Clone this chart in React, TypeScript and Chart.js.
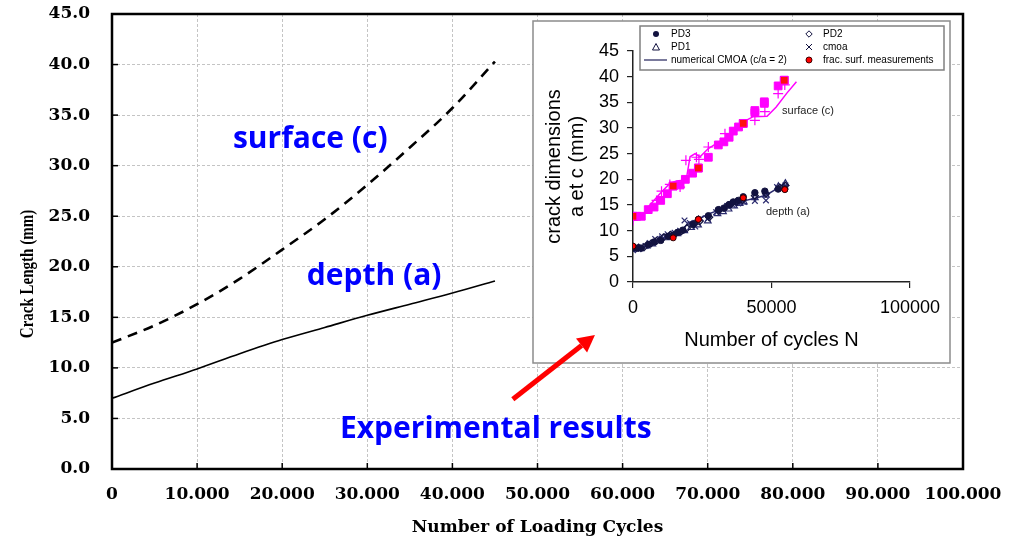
import React, { useEffect, useRef } from 'react';
import { Chart, registerables } from 'chart.js';

Chart.register(...registerables);

// ---------------- main chart data ----------------
const mainCycles = [0, 5000, 10000, 15000, 20000, 25000, 30000, 35000, 40000, 45000];
const surfaceCurve = [12.5, 14.2, 16.3, 18.8, 21.7, 24.7, 28.1, 31.8, 35.7, 40.3];
const depthCurve = [7.0, 8.5, 9.9, 11.4, 12.8, 14.0, 15.2, 16.3, 17.4, 18.6];

const mainXTitle = 'Number of Loading Cycles';
const mainYTitle = 'Crack Length (mm)';
const surfaceNote = { text: 'surface (c)', x: 23300, y: 32.6 };
const depthNote = { text: 'depth (a)', x: 30800, y: 19.0 };
const experimentNote = { text: 'Experimental results', x: 45100, y: 3.9 };
const arrowFrom = { x: 47100, y: 6.9 };
const arrowTo = { x: 56750, y: 13.25 };

// ---------------- inset data ----------------
const pd3Cycles = [0, 1500, 3000, 5500, 7600, 10000, 12700, 14500, 16300, 18000, 21600, 23600, 27200, 30800, 32800, 34700, 36200, 38000, 39800, 44000, 47600, 52400, 54800];
const pd3Depth = [6.6, 6.6, 6.6, 7.3, 7.8, 8.1, 8.9, 9.1, 9.7, 10.1, 11.2, 12.2, 12.9, 14.1, 14.4, 15.1, 15.6, 15.9, 16.6, 17.4, 17.7, 18.1, 18.1];

const pd2Cycles = [0, 2000, 4000, 6500, 8500, 11000, 13500, 15500, 17500, 19500, 22000, 24000, 27500, 31000, 33500, 35500, 37500, 39500, 44000, 48000, 53000, 55000];
const pd2Depth = [6.8, 6.7, 6.8, 7.5, 8.0, 8.7, 9.2, 9.5, 9.9, 10.5, 11.3, 11.8, 12.6, 13.9, 14.6, 15.2, 15.6, 16.0, 16.8, 17.2, 18.4, 18.8];

const pd1Cycles = [0, 2500, 5000, 7000, 9500, 12000, 14000, 16000, 18500, 21000, 23500, 27000, 30500, 32500, 34500, 36500, 38500, 40000, 44000, 48000, 52500, 55000];
const pd1Depth = [6.4, 6.5, 7.0, 7.4, 8.2, 8.6, 9.0, 9.4, 10.0, 10.6, 11.1, 11.9, 13.3, 13.7, 14.2, 14.8, 15.3, 15.6, 16.4, 16.9, 18.6, 19.2];

const cmoaCycles = [0, 2000, 4500, 6000, 8000, 10500, 12500, 15000, 17000, 18600, 20500, 22500, 24500, 27000, 30000, 32000, 34000, 36000, 38000, 40000, 44000, 48000, 52000, 55000];
const cmoaDepth = [6.2, 6.4, 7.0, 7.6, 8.4, 8.9, 9.3, 9.6, 10.0, 12.0, 11.5, 10.8, 12.4, 12.3, 13.6, 14.2, 14.8, 15.0, 15.3, 15.6, 15.8, 15.9, 18.5, 18.8];

const numDepthCycles = [0, 5000, 10000, 15000, 18000, 20000, 23000, 27000, 30000, 35000, 40000, 44000, 48000, 52000, 55000];
const numDepth = [6.5, 7.0, 8.3, 9.5, 10.2, 11.6, 12.0, 13.2, 13.8, 15.0, 15.8, 16.3, 16.9, 18.2, 19.3];

const fracDepthCycles = [0, 14500, 23600, 39800, 54800];
const fracDepth = [7.0, 8.6, 12.2, 16.4, 18.0];
const fracSurfCycles = [0, 14500, 23600, 39800, 54600];
const fracSurf = [12.8, 18.7, 22.2, 30.9, 39.3];

const surfSqCycles = [0, 1300, 3000, 5500, 7600, 10000, 12400, 14500, 17000, 18900, 21500, 23600, 27200, 30800, 32800, 34700, 36200, 38100, 39800, 44000, 44000, 47400, 47400, 52400, 54600];
const surfSq = [12.8, 12.8, 12.8, 14.1, 14.6, 15.9, 17.2, 18.7, 18.9, 20.0, 21.2, 22.2, 24.3, 26.7, 27.3, 28.2, 29.4, 30.2, 30.9, 33.4, 33.0, 35.1, 34.8, 38.2, 39.3];

const surfPlusCycles = [0, 8500, 10300, 13300, 17000, 19100, 22900, 23800, 27200, 33200, 37000, 44000, 47600, 52400, 54800];
const surfPlus = [12.0, 15.9, 17.7, 19.0, 18.5, 23.7, 24.3, 23.9, 26.3, 28.9, 30.0, 31.5, 33.2, 36.7, 38.4];

const numSurfCycles = [0, 3700, 5500, 9700, 13300, 15700, 18200, 19400, 20600, 22400, 24200, 27200, 30200, 35000, 39800, 43400, 48400, 51700, 55400, 59000];
const numSurf = [12.0, 13.0, 14.6, 17.2, 19.2, 19.7, 19.8, 20.5, 24.4, 25.0, 24.4, 26.0, 27.0, 28.6, 31.2, 32.2, 32.3, 34.1, 36.7, 39.0];

const insetXTitle = 'Number of cycles N';
const insetYTitle = ['crack dimensions', 'a et c (mm)'];
const insetSurfNote = { text: 'surface (c)', x: 53800, y: 33.3 };
const insetDepthNote = { text: 'depth (a)', x: 48000, y: 13.6 };

const legendLabels = ['PD3', 'PD2', 'PD1', 'cmoa', 'numerical CMOA (c/a = 2)', 'frac. surf. measurements'];
const legendKinds = ['circle', 'diamond', 'triangle', 'cross', 'line', 'red'];

// ---------------- layout / style constants ----------------
const INSET = { left: 533, top: 21, width: 417, height: 342 };
const NAVY = '#12123f';
const NAVY2 = '#2b2b6e';
const MAGENTA = '#ff00ff';

const zip = (xs: number[], ys: number[]) => xs.map((x, i) => ({ x, y: ys[i] }));

function drawArrow(ctx: CanvasRenderingContext2D, x1: number, y1: number, x2: number, y2: number) {
  const ang = Math.atan2(y2 - y1, x2 - x1);
  const head = 17;
  const half = 9;
  const bx = x2 - head * Math.cos(ang);
  const by = y2 - head * Math.sin(ang);
  ctx.strokeStyle = '#ff0000';
  ctx.fillStyle = '#ff0000';
  ctx.lineWidth = 5;
  ctx.beginPath();
  ctx.moveTo(x1, y1);
  ctx.lineTo(bx, by);
  ctx.stroke();
  ctx.beginPath();
  ctx.moveTo(x2, y2);
  ctx.lineTo(bx + half * Math.sin(ang), by - half * Math.cos(ang));
  ctx.lineTo(bx - half * Math.sin(ang), by + half * Math.cos(ang));
  ctx.closePath();
  ctx.fill();
}

const mainDecor = {
  id: 'mainDecor',
  afterDraw(chart: any) {
    const { ctx, chartArea: a, scales } = chart;
    const xs = scales.x;
    const ys = scales.y;
    ctx.save();
    // inward tick marks
    ctx.strokeStyle = '#000';
    ctx.lineWidth = 1.5;
    ys.ticks.forEach((t: any) => {
      const py = ys.getPixelForValue(t.value);
      ctx.beginPath();
      ctx.moveTo(a.left, py);
      ctx.lineTo(a.left + 6, py);
      ctx.stroke();
    });
    xs.ticks.forEach((t: any) => {
      const px = xs.getPixelForValue(t.value);
      ctx.beginPath();
      ctx.moveTo(px, a.bottom);
      ctx.lineTo(px, a.bottom - 6);
      ctx.stroke();
    });
    // frame
    ctx.lineWidth = 2.5;
    ctx.strokeRect(a.left, a.top, a.right - a.left, a.bottom - a.top);
    // inset panel
    ctx.fillStyle = '#fff';
    ctx.fillRect(INSET.left, INSET.top, INSET.width, INSET.height);
    ctx.strokeStyle = '#8c8c8c';
    ctx.lineWidth = 1.5;
    ctx.strokeRect(INSET.left, INSET.top, INSET.width, INSET.height);
    // blue annotations
    ctx.fillStyle = '#0000ff';
    ctx.font = 'bold 30px "Open Sans"';
    ctx.textAlign = 'center';
    ctx.textBaseline = 'middle';
    [surfaceNote, depthNote, experimentNote].forEach((n) => {
      ctx.fillText(n.text, xs.getPixelForValue(n.x), ys.getPixelForValue(n.y));
    });
    // arrow
    drawArrow(ctx, xs.getPixelForValue(arrowFrom.x), ys.getPixelForValue(arrowFrom.y), xs.getPixelForValue(arrowTo.x), ys.getPixelForValue(arrowTo.y));
    // y axis title (stretched serif)
    ctx.save();
    ctx.translate(28, 274);
    ctx.rotate(-Math.PI / 2);
    ctx.scale(1, 1.3);
    ctx.fillStyle = '#000';
    ctx.font = 'bold 15px "Liberation Serif"';
    ctx.textAlign = 'center';
    ctx.textBaseline = 'middle';
    ctx.fillText(mainYTitle, 0, 0);
    ctx.restore();
    ctx.restore();
  },
};

function drawSymbol(ctx: CanvasRenderingContext2D, kind: string, x: number, y: number) {
  ctx.save();
  ctx.lineWidth = 1;
  ctx.strokeStyle = NAVY;
  ctx.fillStyle = NAVY;
  if (kind === 'circle') {
    ctx.beginPath();
    ctx.arc(x, y, 3, 0, Math.PI * 2);
    ctx.fill();
  } else if (kind === 'diamond') {
    ctx.beginPath();
    ctx.moveTo(x, y - 3.2);
    ctx.lineTo(x + 3.2, y);
    ctx.lineTo(x, y + 3.2);
    ctx.lineTo(x - 3.2, y);
    ctx.closePath();
    ctx.stroke();
  } else if (kind === 'triangle') {
    ctx.beginPath();
    ctx.moveTo(x, y - 3.5);
    ctx.lineTo(x + 3.5, y + 3);
    ctx.lineTo(x - 3.5, y + 3);
    ctx.closePath();
    ctx.stroke();
  } else if (kind === 'cross') {
    ctx.beginPath();
    ctx.moveTo(x - 3, y - 3);
    ctx.lineTo(x + 3, y + 3);
    ctx.moveTo(x + 3, y - 3);
    ctx.lineTo(x - 3, y + 3);
    ctx.stroke();
  } else if (kind === 'line') {
    ctx.strokeStyle = '#7a7a9c';
    ctx.lineWidth = 2;
    ctx.beginPath();
    ctx.moveTo(x - 12, y);
    ctx.lineTo(x + 11, y);
    ctx.stroke();
  } else if (kind === 'red') {
    ctx.beginPath();
    ctx.arc(x, y, 3, 0, Math.PI * 2);
    ctx.fillStyle = '#ff0000';
    ctx.fill();
    ctx.strokeStyle = '#400000';
    ctx.stroke();
  }
  ctx.restore();
}

const insetDecor = {
  id: 'insetDecor',
  afterDraw(chart: any) {
    const { ctx, scales } = chart;
    const xs = scales.x;
    const ys = scales.y;
    ctx.save();
    ctx.fillStyle = '#222';
    ctx.font = '11px "Liberation Sans"';
    ctx.textAlign = 'left';
    ctx.textBaseline = 'middle';
    [insetSurfNote, insetDepthNote].forEach((n) => {
      ctx.fillText(n.text, xs.getPixelForValue(n.x), ys.getPixelForValue(n.y));
    });
    // legend
    const bx = 107, by = 5, bw = 304, bh = 44;
    ctx.fillStyle = '#fff';
    ctx.fillRect(bx, by, bw, bh);
    ctx.strokeStyle = '#808080';
    ctx.lineWidth = 1.5;
    ctx.strokeRect(bx, by, bw, bh);
    const colSym = [123, 276];
    const colText = [138, 290];
    const rowY = [13, 26, 39];
    ctx.font = '10px "Liberation Sans"';
    ctx.fillStyle = '#000';
    legendLabels.forEach((lab, i) => {
      const c = i % 2;
      const r = Math.floor(i / 2);
      drawSymbol(ctx, legendKinds[i], colSym[c], rowY[r]);
      ctx.fillStyle = '#000';
      ctx.fillText(lab, colText[c], rowY[r]);
    });
    ctx.restore();
  },
};

export default function App() {
  const mainRef = useRef<HTMLCanvasElement>(null);
  const insetRef = useRef<HTMLCanvasElement>(null);

  useEffect(() => {
    const serifBold = { family: '"DejaVu Serif"', weight: 'bold' as const, size: 17 };
    const main = new Chart(mainRef.current!, {
      type: 'line',
      data: {
        datasets: [
          {
            label: 'surface (c)',
            data: zip(mainCycles, surfaceCurve),
            borderColor: '#000',
            borderWidth: 2.6,
            borderDash: [10, 7],
            pointRadius: 0,
            fill: false,
            cubicInterpolationMode: 'monotone',
          },
          {
            label: 'depth (a)',
            data: zip(mainCycles, depthCurve),
            borderColor: '#000',
            borderWidth: 1.6,
            pointRadius: 0,
            fill: false,
            cubicInterpolationMode: 'monotone',
          },
        ],
      },
      options: {
        responsive: false,
        animation: false,
        layout: { padding: { top: 14, right: 49, left: 0, bottom: 0 } },
        plugins: { legend: { display: false }, tooltip: { enabled: false } },
        scales: {
          x: {
            type: 'linear',
            min: 0,
            max: 100000,
            ticks: {
              stepSize: 10000,
              color: '#000',
              font: serifBold,
              padding: 15,
              maxRotation: 0,
              callback: (v: any) => (v === 0 ? '0' : `${v / 1000}.000`),
            },
            grid: { color: '#c4c4c4', lineWidth: 1, drawTicks: false },
            border: { display: false, dash: [3, 2] },
            title: { display: true, text: mainXTitle, color: '#000', font: serifBold, padding: { top: 4, bottom: 2 } },
            afterFit: (s: any) => {
              s.height = 71;
              s.paddingLeft = 0;
              s.paddingRight = 0;
            },
          },
          y: {
            type: 'linear',
            min: 0,
            max: 45,
            ticks: {
              stepSize: 5,
              color: '#000',
              font: serifBold,
              padding: 22,
              callback: (v: any) => Number(v).toFixed(1),
            },
            grid: { color: '#c4c4c4', lineWidth: 1, drawTicks: false },
            border: { display: false, dash: [3, 2] },
            afterFit: (s: any) => {
              s.width = 112;
              s.paddingTop = 0;
              s.paddingBottom = 0;
            },
          },
        },
      },
      plugins: [mainDecor],
    } as any);

    const sans18 = { family: '"Liberation Sans"', size: 18 };
    const inset = new Chart(insetRef.current!, {
      type: 'scatter',
      data: {
        datasets: [
          { label: 'frac. surf. measurements', data: zip(fracDepthCycles, fracDepth), pointStyle: 'circle', pointRadius: 3, backgroundColor: '#ff0000', borderColor: '#300000', borderWidth: 1 },
          { label: 'frac surface', data: zip(fracSurfCycles, fracSurf), pointStyle: 'rect', pointRadius: 5.5, backgroundColor: '#ff1010', borderColor: MAGENTA, borderWidth: 1 },
          { label: 'PD3', data: zip(pd3Cycles, pd3Depth), pointStyle: 'circle', pointRadius: 3.2, backgroundColor: NAVY, borderColor: NAVY, borderWidth: 1 },
          { label: 'PD2', data: zip(pd2Cycles, pd2Depth), pointStyle: 'rectRot', pointRadius: 3.5, backgroundColor: 'rgba(0,0,0,0)', borderColor: NAVY, borderWidth: 1.2 },
          { label: 'PD1', data: zip(pd1Cycles, pd1Depth), pointStyle: 'triangle', pointRadius: 3.8, backgroundColor: 'rgba(0,0,0,0)', borderColor: NAVY2, borderWidth: 1.2 },
          { label: 'cmoa', data: zip(cmoaCycles, cmoaDepth), pointStyle: 'crossRot', pointRadius: 4, borderColor: NAVY2, borderWidth: 1.2 },
          { label: 'surface squares', data: zip(surfSqCycles, surfSq), pointStyle: 'rect', pointRadius: 5.5, backgroundColor: MAGENTA, borderColor: MAGENTA, borderWidth: 1 },
          { label: 'surface cmoa', data: zip(surfPlusCycles, surfPlus), pointStyle: 'cross', pointRadius: 5, borderColor: MAGENTA, borderWidth: 1.2 },
          { label: 'numerical CMOA (c/a = 2)', data: zip(numDepthCycles, numDepth), showLine: true, pointRadius: 0, borderColor: NAVY2, borderWidth: 1.5 },
          { label: 'numerical CMOA surface', data: zip(numSurfCycles, numSurf), showLine: true, pointRadius: 0, borderColor: MAGENTA, borderWidth: 1.5 },
        ],
      },
      options: {
        responsive: false,
        animation: false,
        layout: { padding: { top: 30, right: 40, left: 0, bottom: 0 } },
        plugins: { legend: { display: false }, tooltip: { enabled: false } },
        scales: {
          x: {
            type: 'linear',
            min: 0,
            max: 100000,
            ticks: { stepSize: 50000, color: '#000', font: sans18, padding: 9, maxRotation: 0, callback: (v: any) => String(v) },
            grid: { drawOnChartArea: false, drawTicks: true, tickLength: 6, color: '#222', lineWidth: 1.2 },
            border: { display: true, color: '#222', width: 1.5 },
            title: { display: true, text: insetXTitle, color: '#000', font: { family: '"Liberation Sans"', size: 20 }, padding: { top: 0, bottom: 11 } },
            afterFit: (s: any) => {
              s.height = 81;
              s.paddingLeft = 0;
              s.paddingRight = 0;
            },
          },
          y: {
            type: 'linear',
            min: 0,
            max: 45,
            ticks: { stepSize: 5, color: '#000', font: sans18, padding: 8, callback: (v: any) => String(v) },
            grid: { drawOnChartArea: false, drawTicks: true, tickLength: 6, color: '#222', lineWidth: 1.2 },
            border: { display: true, color: '#222', width: 1.5 },
            title: { display: true, text: insetYTitle, color: '#000', font: { family: '"Liberation Sans"', size: 20, lineHeight: 1.15 }, padding: { top: 10, bottom: 0 } },
            afterFit: (s: any) => {
              s.width = 100;
              s.paddingTop = 0;
              s.paddingBottom = 0;
            },
          },
        },
      },
      plugins: [insetDecor],
    } as any);

    return () => {
      main.destroy();
      inset.destroy();
    };
  }, []);

  return (
    <div style={{ position: 'absolute', left: 0, top: 0, width: 1012, height: 540, background: '#fff' }}>
      <canvas ref={mainRef} width={1012} height={540} style={{ position: 'absolute', left: 0, top: 0 }} />
      <canvas
        ref={insetRef}
        width={INSET.width}
        height={INSET.height}
        style={{ position: 'absolute', left: INSET.left, top: INSET.top }}
      />
    </div>
  );
}
